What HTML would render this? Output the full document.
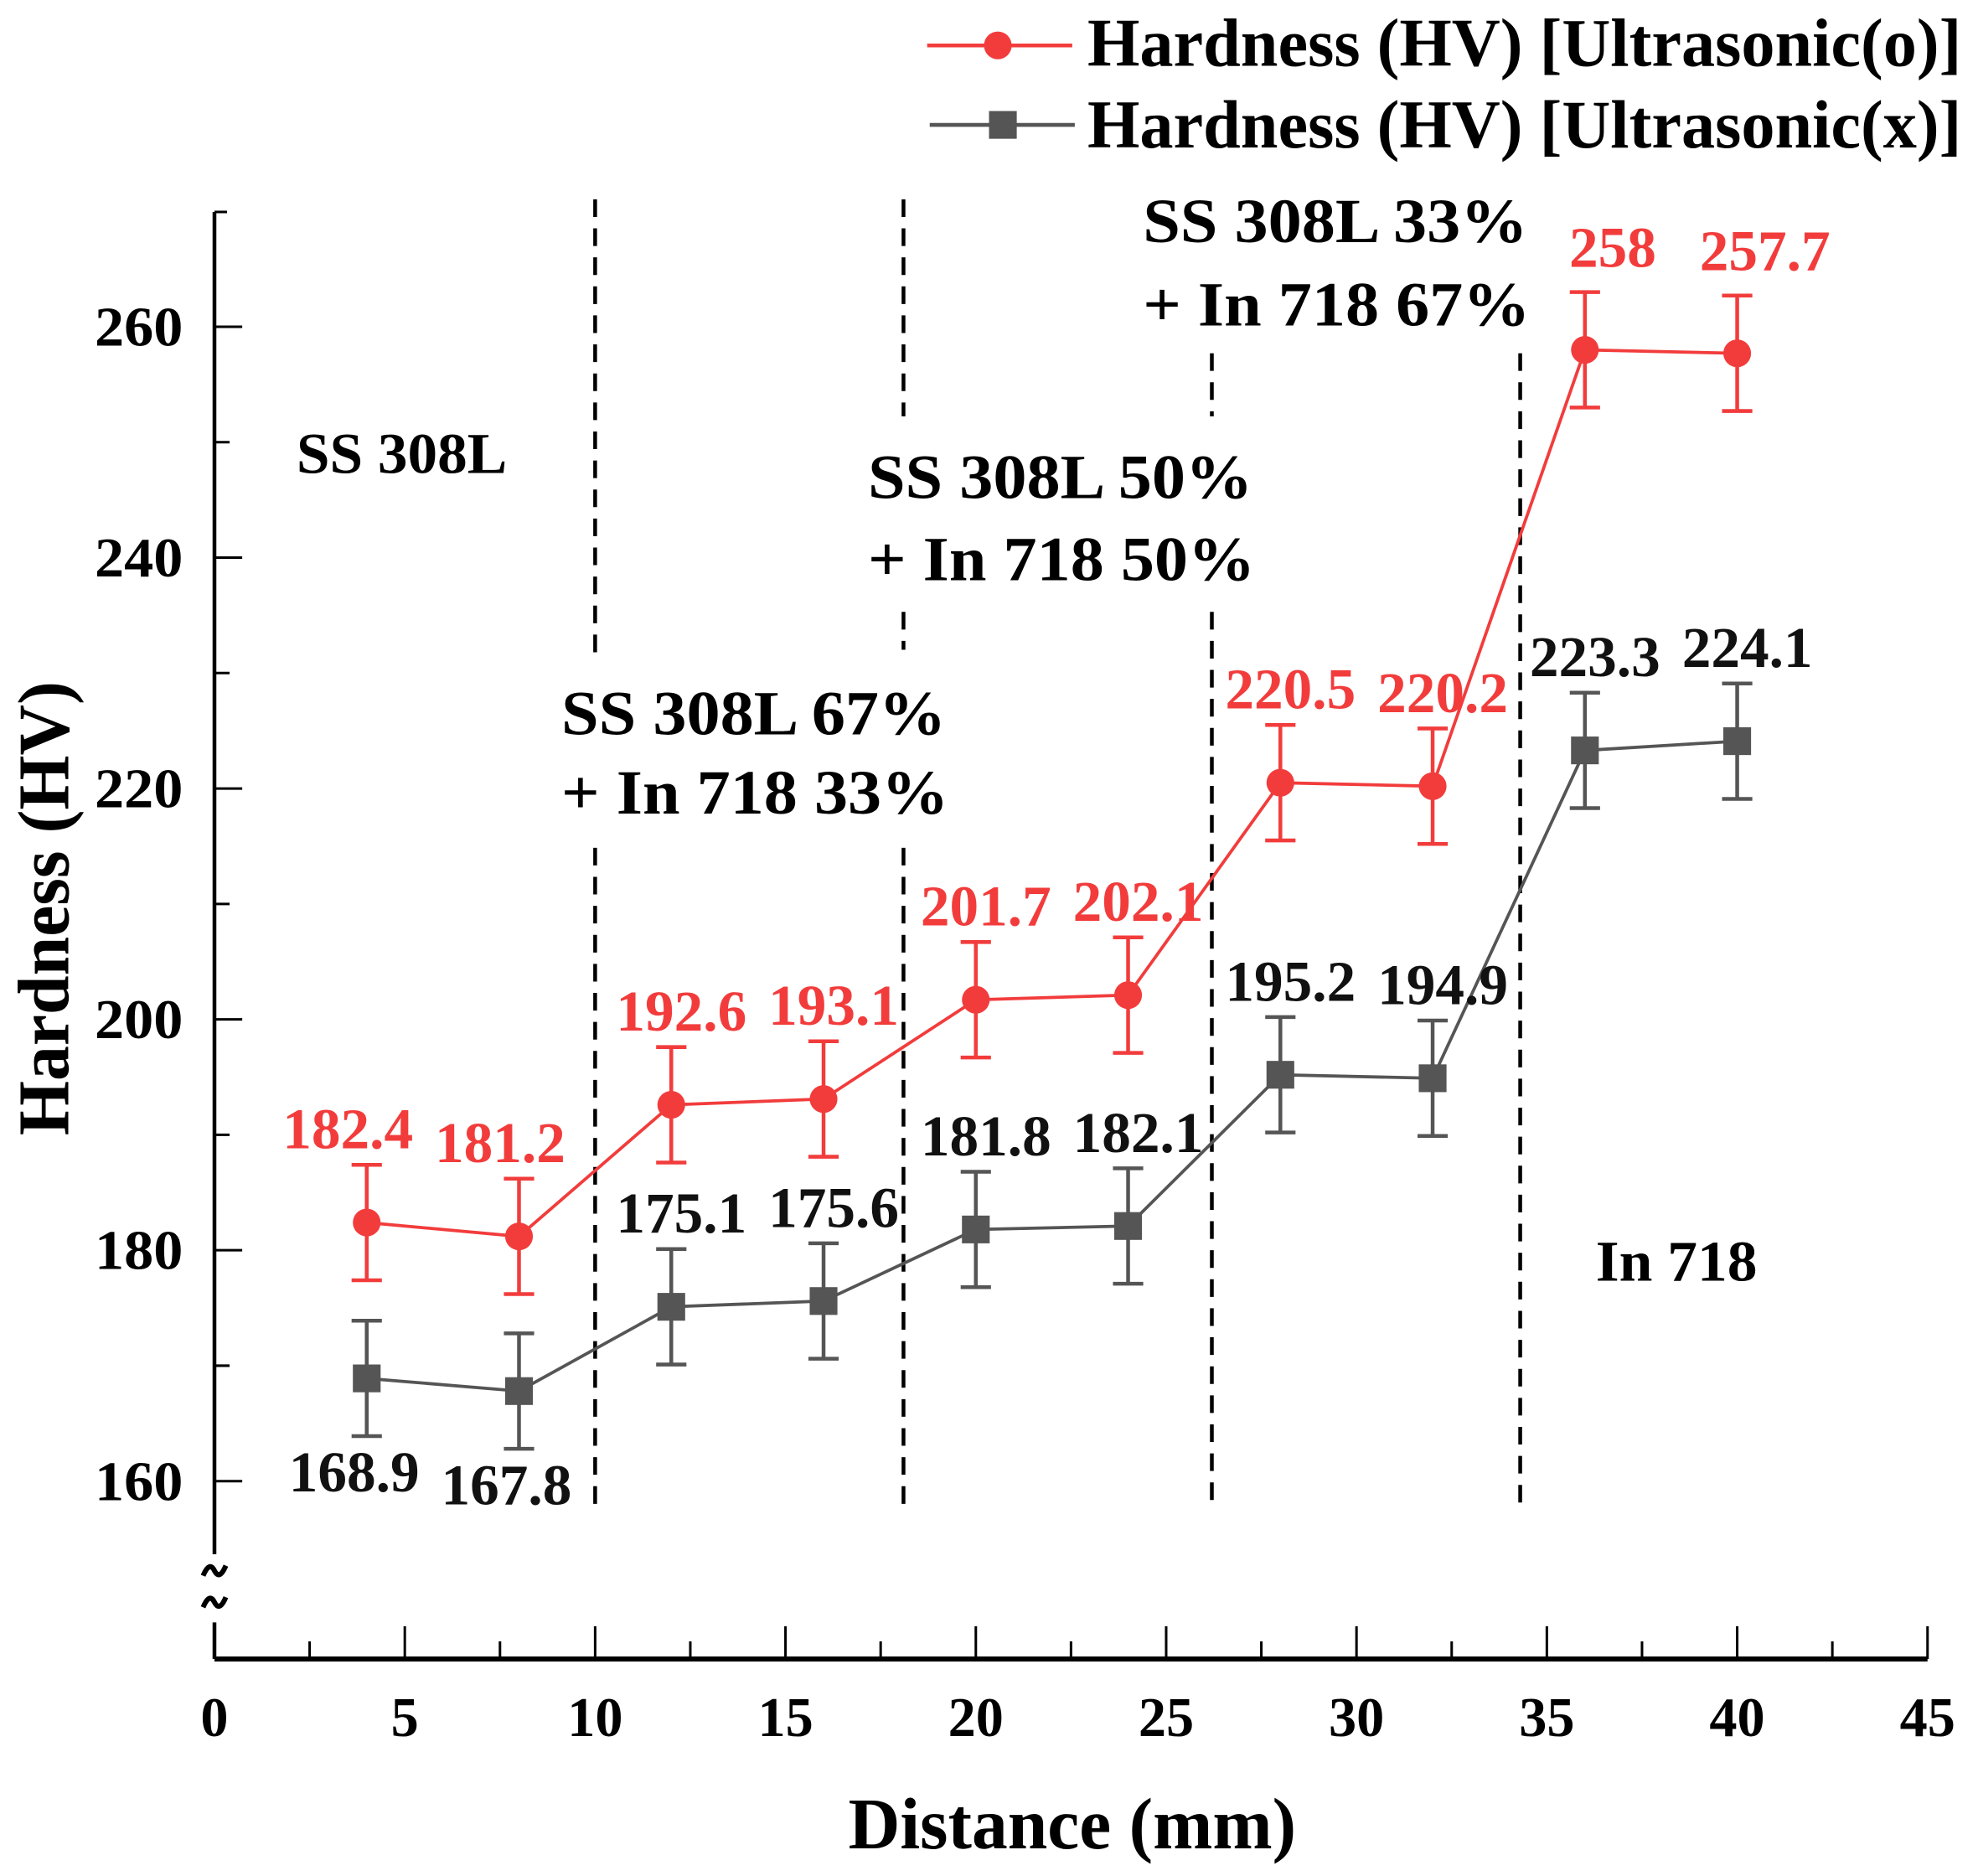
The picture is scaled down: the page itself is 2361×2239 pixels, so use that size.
<!DOCTYPE html>
<html><head><meta charset="utf-8"><style>
html,body{margin:0;padding:0;background:#fff;}
svg{display:block;}
text{font-family:"Liberation Serif",serif;font-weight:bold;}
</style></head><body>
<svg id="chart" width="2361" height="2239" viewBox="0 0 1568 1487" xmlns="http://www.w3.org/2000/svg">
<g id="axes"></g>
<g id="dividers"></g>
<g id="regions">
<text x="235" y="375" font-size="46" textLength="167" lengthAdjust="spacingAndGlyphs">SS 308L</text>
<text x="445" y="582" font-size="50" textLength="305" lengthAdjust="spacingAndGlyphs">SS 308L 67%</text>
<text x="445" y="645" font-size="50" textLength="307" lengthAdjust="spacingAndGlyphs">+ In 718 33%</text>
<text x="688" y="395" font-size="50" textLength="305" lengthAdjust="spacingAndGlyphs">SS 308L 50%</text>
<text x="688" y="460" font-size="50" textLength="307" lengthAdjust="spacingAndGlyphs">+ In 718 50%</text>
<text x="906" y="192" font-size="50" textLength="305" lengthAdjust="spacingAndGlyphs">SS 308L 33%</text>
<text x="906" y="258" font-size="50" textLength="307" lengthAdjust="spacingAndGlyphs">+ In 718 67%</text>
<text x="1265" y="1015" font-size="46" textLength="128" lengthAdjust="spacingAndGlyphs">In 718</text>
</g>
<g id="series"></g>
<g id="legend">
<line x1="735" y1="36" x2="850" y2="36" stroke="#f23c3c" stroke-width="3"/>
<circle cx="791" cy="36" r="11" fill="#f23c3c"/>
<text x="862" y="52" font-size="54" textLength="693" lengthAdjust="spacingAndGlyphs">Hardness (HV) [Ultrasonic(o)]</text>
<line x1="737" y1="99" x2="852" y2="99" stroke="#555" stroke-width="3"/>
<rect x="784" y="88" width="22" height="22" fill="#555"/>
<text x="862" y="117" font-size="54" textLength="693" lengthAdjust="spacingAndGlyphs">Hardness (HV) [Ultrasonic(x)]</text>
</g>
<text x="850" y="1465" font-size="58" text-anchor="middle" textLength="355" lengthAdjust="spacingAndGlyphs">Distance (mm)</text>
<text transform="translate(54,720) rotate(-90)" font-size="58" text-anchor="middle" textLength="360" lengthAdjust="spacingAndGlyphs">Hardness (HV)</text>
</svg>
<script>
const distances = [4, 8, 12, 16, 20, 24, 28, 32, 36, 40];
const redValues = [182.4, 181.2, 192.6, 193.1, 201.7, 202.1, 220.5, 220.2, 258, 257.7];
const grayValues = [168.9, 167.8, 175.1, 175.6, 181.8, 182.1, 195.2, 194.9, 223.3, 224.1];
const redErrors = [5, 5, 5, 5, 5, 5, 5, 5, 5, 5];
const grayErrors = [5, 5, 5, 5, 5, 5, 5, 5, 5, 5];
const xTicks = [0, 5, 10, 15, 20, 25, 30, 35, 40, 45];
const yTicks = [160, 180, 200, 220, 240, 260];
const dividerX = [10, 18.1, 26.2, 34.3];

const NS = "http://www.w3.org/2000/svg";
const X0 = 170, X1 = 1528, Y160 = 1174, Y260 = 259, AXY = 1315;
function sx(v){ return X0 + (v / 45) * (X1 - X0); }
function sy(v){ return Y160 + (v - 160) / 100 * (Y260 - Y160); }
function mk(tag, attrs, parent){
  const e = document.createElementNS(NS, tag);
  for (const k in attrs) e.setAttribute(k, attrs[k]);
  parent.appendChild(e);
  return e;
}
const axes = document.getElementById('axes');
let l;
l = mk('line', {x1:X0, y1:168, x2:X0, y2:1232, stroke:'#000', 'stroke-width':3}, axes);


l = mk('line', {x1:X0, y1:1286, x2:X0, y2:AXY, stroke:'#000', 'stroke-width':3}, axes);


l = mk('line', {x1:X0, y1:168, x2:X0+10, y2:168, stroke:'#000', 'stroke-width':2}, axes);


for (const yy of [1245, 1270]) {
  const s = mk('path', {d:`M${X0-9} ${yy+4} Q${X0-4} ${yy-8} ${X0} ${yy} T${X0+9} ${yy-4}`, stroke:'#000', 'stroke-width':4, fill:'none'}, axes);
  
  
}
l = mk('line', {x1:X0, y1:AXY, x2:X1, y2:AXY, stroke:'#000', 'stroke-width':4}, axes);


for (let v = 0; v <= 45; v += 2.5) {
  const major = v % 5 === 0;
  const t = mk('line', {x1:sx(v), y1:AXY, x2:sx(v), y2:AXY-(major?26:14), stroke:'#000', 'stroke-width':2}, axes);
  
  
}
for (const v of xTicks) {
  const t = mk('text', {x:sx(v), y:1376, 'font-size':44, 'text-anchor':'middle'}, axes);
  t.textContent = String(v);
  
  
}
for (let v = 170; v <= 260; v += 10) {
  const major = v % 20 === 0;
  const t = mk('line', {x1:X0, y1:sy(v), x2:X0+(major?22:12), y2:sy(v), stroke:'#000', 'stroke-width':2}, axes);
  
  
}
l = mk('line', {x1:X0, y1:sy(160), x2:X0+22, y2:sy(160), stroke:'#000', 'stroke-width':2}, axes);


for (const v of yTicks) {
  const t = mk('text', {x:145, y:sy(v)+15, 'font-size':44, 'text-anchor':'end', textLength:70, lengthAdjust:'spacingAndGlyphs'}, axes);
  t.textContent = String(v);
  
  
}
const divSegs = [[[158,520],[672,1195]], [[158,330],[485,515],[672,1195]], [[280,330],[485,1198]], [[280,1198]]];
const dv = document.getElementById('dividers');
dividerX.forEach((d, i) => {
  for (const [a, b] of divSegs[i]) {
    const e = mk('line', {x1:sx(d), y1:a, x2:sx(d), y2:b, stroke:'#000', 'stroke-width':3, 'stroke-dasharray':'14 9'}, dv);
    
    
  }
});
const sg = document.getElementById('series');
function drawSeries(vals, errs, color, kind, name) {
  const g = mk('g', {}, sg);
  
  
  const pts = distances.map((d, i) => sx(d) + ',' + sy(vals[i])).join(' ');
  const pl = mk('polyline', {points:pts, fill:'none', stroke:color, 'stroke-width':2.5}, g);
  
  
  distances.forEach((d, i) => {
    const x = sx(d), y = sy(vals[i]), yt = sy(vals[i] + errs[i]), yb = sy(vals[i] - errs[i]);
    const eb = mk('path', {d:`M${x} ${yt}V${yb}M${x-12} ${yt}H${x+12}M${x-12} ${yb}H${x+12}`, stroke:color, 'stroke-width':3, fill:'none'}, g);
    
    
    let m;
    if (kind === 'circle') m = mk('circle', {cx:x, cy:y, r:11, fill:color}, g);
    else m = mk('rect', {x:x-11, y:y-11, width:22, height:22, fill:color}, g);
    
    
    const below = kind === 'square' && i < 2;
    const dx = kind === 'circle' ? (i < 2 ? -15 : (i >= 8 ? 22 : 8)) : (below ? -10 : 8);
    const t = mk('text', {x:x + dx, y: below ? yb + 44 : yt - (kind === 'circle' && i >= 8 ? 20 : 13), 'font-size':46, 'text-anchor':'middle', fill:color === '#555' ? '#111' : color}, g);
    t.textContent = String(vals[i]);
    
    
  });
}
drawSeries(grayValues, grayErrors, '#555', 'square', 'ultrasonic-x');
drawSeries(redValues, redErrors, '#f23c3c', 'circle', 'ultrasonic-o');
</script>
</body></html>
